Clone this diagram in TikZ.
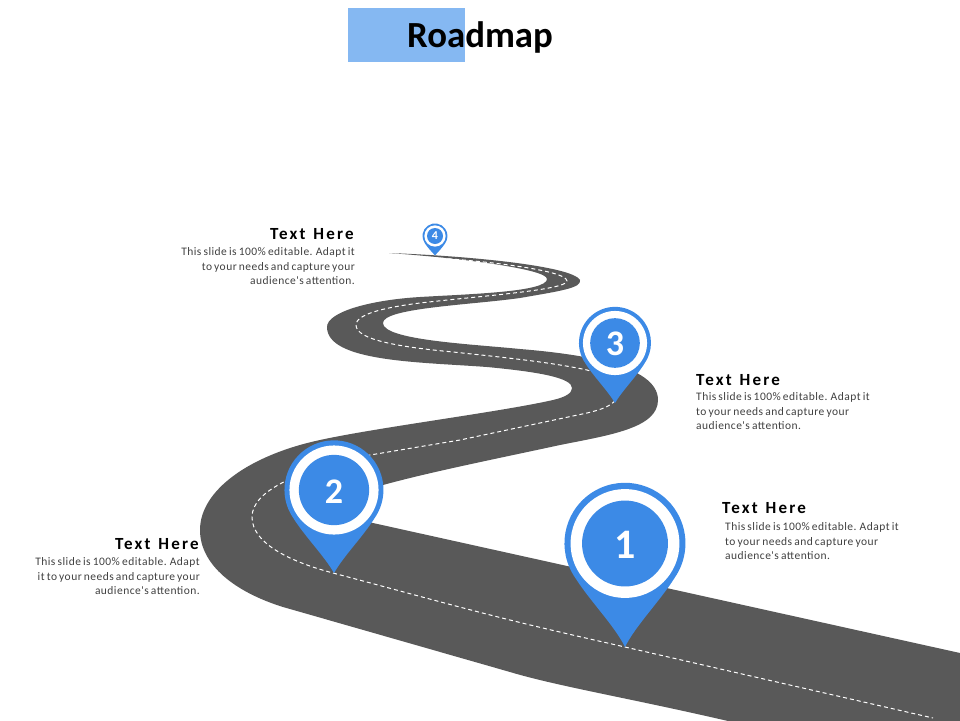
\documentclass[tikz,border=0pt]{standalone}
\usepackage{fontspec}
\setmainfont{Carlito}
\newfontfamily\headfont[LetterSpace=13,WordSpace=1.3]{Carlito Bold}
\newfontfamily\bodyfont[LetterSpace=4,WordSpace=0.7]{Carlito}
\definecolor{road}{HTML}{595959}
\definecolor{pinblue}{HTML}{3C8AE6}
\definecolor{titlebar}{HTML}{85B8F2}
\definecolor{bodygray}{HTML}{404040}
\tikzset{
  headtext/.style={inner sep=0pt,font=\headfont\fontsize{17}{18}\selectfont,text=black},
  bodytext/.style={inner sep=0pt,font=\bodyfont\fontsize{11.5}{14.5}\selectfont,text=bodygray},
  pinnum/.style={inner sep=0pt,text=white,font=\bfseries}
}
% #1 cx, #2 cy, #3 outer radius, #4 white ring ratio, #5 inner ratio, #6 tip ratio
\newcommand{\mappin}[6]{%
  \begin{scope}[shift={(#1,#2)},scale=#3]
    \fill[pinblue] (-0.82,0.57) arc[start angle=145,end angle=395,radius=1]
      .. controls (0.58,0.95) and (0.18,1.35) .. (0,#6)
      .. controls (-0.18,1.35) and (-0.58,0.95) .. (-0.82,0.57) -- cycle;
    \fill[white] (0,0) circle (#4);
    \fill[pinblue] (0,0) circle (#5);
  \end{scope}}
\begin{document}
\begin{tikzpicture}[x=1pt,y=-1pt]
\useasboundingbox (0,0) rectangle (960,720);
\clip (0,0) rectangle (960,720);
\fill[titlebar] (348,8) rectangle (465,62);
\node[inner sep=0pt,anchor=center,font=\bfseries\fontsize{36.8}{40}\selectfont] (title) at (480,37) {Roadmap};
% road
\fill[road] (389,253) .. controls (470,256) and (572,266) .. (580,280)
  .. controls (582,288) and (560,291) .. (520,298)
  .. controls (470,305) and (383,308) .. (383,323)
  .. controls (383,340) and (470,344) .. (520,349)
  .. controls (580,354) and (658,365) .. (658,400)
  .. controls (658,428) and (610,435) .. (560,445)
  .. controls (500,458) and (430,472) .. (383,485)
  .. controls (330,497) and (320,512) .. (373,523)
  -- (960,653) -- (960,725) -- (745,725)
  .. controls (640,700) and (560,687) .. (510,672)
  -- (283,607)
  .. controls (235,592) and (200,565) .. (200,530)
  .. controls (200,490) and (250,455) .. (320,440)
  .. controls (380,427) and (500,412) .. (553,400)
  .. controls (566,397) and (572,393) .. (572,388)
  .. controls (572,378) and (540,372) .. (487,367)
  .. controls (420,362) and (327,362) .. (327,327)
  .. controls (327,312) and (370,300) .. (420,297)
  .. controls (470,294) and (547,292) .. (547,279)
  .. controls (547,269) and (460,258) .. (389,253) -- cycle;
% centre line
\draw[white,line width=1pt,dash pattern=on 4pt off 3pt] (420,257)
  .. controls (480,260) and (567,270) .. (567,281)
  .. controls (567,290) and (480,296) .. (420,303)
  .. controls (380,308) and (356,315) .. (356,325)
  .. controls (356,340) and (400,347) .. (453,352)
  .. controls (500,357) and (550,362) .. (587,370)
  .. controls (605,375) and (617,385) .. (617,395)
  .. controls (617,405) and (600,410) .. (587,413)
  -- (460,440) -- (370,455)
  .. controls (300,470) and (252,490) .. (252,517)
  .. controls (252,545) and (295,563) .. (333,573)
  .. controls (390,588) and (450,605) .. (510,620)
  .. controls (550,630) and (590,639) .. (625,647)
  -- (933,718);
% pins
\mappin{625}{543.5}{60.5}{0.90}{0.71}{1.71}
\mappin{334}{490}{49.5}{0.90}{0.71}{1.68}
\mappin{615}{343}{36}{0.89}{0.69}{1.67}
\mappin{435}{236}{12.5}{0.85}{0.64}{1.55}
\node[pinnum,font=\bfseries\fontsize{42}{44}\selectfont] (n1) at (625,545) {1};
\node[pinnum,font=\bfseries\fontsize{36}{38}\selectfont] (n2) at (334,492) {2};
\node[pinnum,font=\bfseries\fontsize{36}{38}\selectfont] (n3) at (615,344) {3};
\node[pinnum,font=\bfseries\fontsize{12}{13}\selectfont] (n4) at (435,236) {4};
% labels
\node[headtext,anchor=east] (h4) at (354,234.5) {Text Here};
\node[bodytext,anchor=north east,align=right] (b4) at (355,247.5) {This slide is 100\% editable. Adapt it\\to your needs and capture your\\audience's attention.};
\node[headtext,anchor=west] (h3) at (696,380.5) {Text Here};
\node[bodytext,anchor=north west,align=left] (b3) at (696,392.5) {This slide is 100\% editable. Adapt it\\to your needs and capture your\\audience's attention.};
\node[headtext,anchor=west] (h1) at (722,508.5) {Text Here};
\node[bodytext,anchor=north west,align=left] (b1) at (725,522.5) {This slide is 100\% editable. Adapt it\\to your needs and capture your\\audience's attention.};
\node[headtext,anchor=east] (h2) at (199,544.5) {Text Here};
\node[bodytext,anchor=north east,align=right] (b2) at (200,557.5) {This slide is 100\% editable. Adapt\\it to your needs and capture your\\audience's attention.};
\end{tikzpicture}
\end{document}
